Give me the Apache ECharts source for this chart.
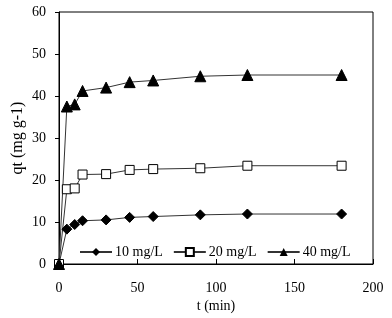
<!DOCTYPE html>
<html>
<head>
<meta charset="utf-8">
<script src="https://cdn.jsdelivr.net/npm/echarts@6/dist/echarts.min.js"></script>
<style>
  html, body { margin: 0; padding: 0; background: #fff; }
  #chart { width: 392px; height: 318px; }
</style>
</head>
<body>
<div id="chart"></div>
<script>
// contact time (min)
var times = [0, 5, 10, 15, 30, 45, 60, 90, 120, 180];
var q10 = [0, 8.3, 9.4, 10.3, 10.5, 11.1, 11.3, 11.7, 11.9, 11.9];
var q20 = [0, 17.8, 18.0, 21.3, 21.4, 22.4, 22.6, 22.8, 23.4, 23.4];
var q40 = [0, 37.5, 38.0, 41.2, 42.0, 43.3, 43.7, 44.7, 45.0, 45.0];
var seriesNames = ['10 mg/L', '20 mg/L', '40 mg/L'];

function pairs(ys) {
    return times.map(function (t, i) { return [t, ys[i]]; });
}

var font = 'Liberation Serif';
var myChart = echarts.init(document.getElementById('chart'), null, { renderer: 'canvas' });

var option = {
    backgroundColor: '#fff',
    animation: false,
    textStyle: { fontFamily: font, color: '#000' },
    grid: {
        left: 59, right: 19, top: 12, bottom: 54,
        containLabel: false, outerBoundsMode: 'none',
        show: true, borderColor: '#000', borderWidth: 1
    },
    legend: {
        data: seriesNames,
        left: 74, top: 240,
        itemWidth: 32, itemHeight: 10, itemGap: 10,
        textStyle: { fontFamily: font, fontSize: 14, color: '#000', padding: [0, 0, 0, -2] }
    },
    xAxis: {
        type: 'value', min: 0, max: 200, interval: 50,
        name: 't (min)', nameLocation: 'middle', nameGap: 35, nameMoveOverlap: false,
        nameTextStyle: { fontFamily: font, fontSize: 14, color: '#000' },
        axisLine: { lineStyle: { color: '#000', width: 1 } },
        axisTick: { inside: true, length: 5, lineStyle: { color: '#000' } },
        axisLabel: { fontFamily: font, fontSize: 14, color: '#000', margin: 17 },
        splitLine: { show: false }
    },
    yAxis: {
        type: 'value', min: 0, max: 60, interval: 10,
        name: 'qt (mg g-1)', nameLocation: 'middle', nameGap: 33, nameMoveOverlap: false,
        nameTextStyle: { fontFamily: font, fontSize: 16, color: '#000' },
        axisLine: { lineStyle: { color: '#000', width: 1 } },
        axisTick: { inside: false, length: 4, lineStyle: { color: '#000' } },
        axisLabel: { fontFamily: font, fontSize: 14, color: '#000', margin: 13 },
        splitLine: { show: false }
    },
    series: [
        {
            name: seriesNames[0], type: 'line', data: pairs(q10),
            symbol: 'diamond', symbolSize: 10,
            lineStyle: { color: '#333', width: 1 },
            itemStyle: { color: '#000', borderColor: '#000' }
        },
        {
            name: seriesNames[1], type: 'line', data: pairs(q20),
            symbol: 'rect', symbolSize: 9,
            lineStyle: { color: '#333', width: 1 },
            itemStyle: { color: '#fff', borderColor: '#000', borderWidth: 1 }
        },
        {
            name: seriesNames[2], type: 'line', data: pairs(q40),
            symbol: 'triangle', symbolSize: 11,
            lineStyle: { color: '#333', width: 1 },
            itemStyle: { color: '#000', borderColor: '#000' }
        }
    ]
};
myChart.setOption(option);
</script>
</body>
</html>
